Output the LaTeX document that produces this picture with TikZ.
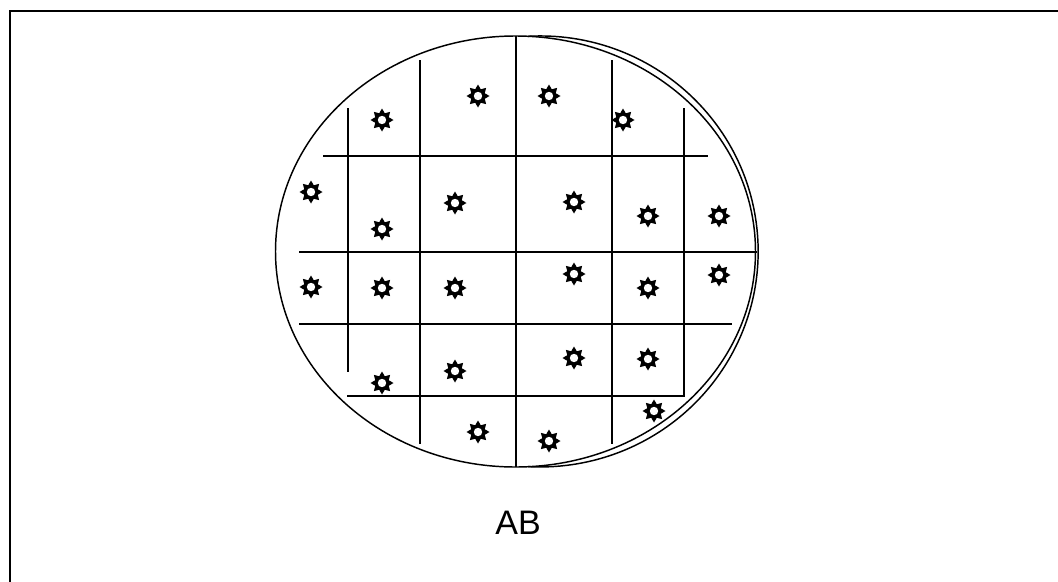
\documentclass[tikz,border=0pt]{standalone}
\usepackage{fontspec}
\setmainfont{Liberation Sans}
\begin{document}
\begin{tikzpicture}[x=0.75pt,y=-0.75pt,
  frame/.style={line width=1.5pt},
  wafer/.style={line width=1.1pt},
  grid/.style={line width=1.1pt},
  wstar/.pic={
    \fill[black] (0:11.5) \foreach \i in {1,...,15}{ -- ({\i*22.5}:{ifthenelse(isodd(\i),7.3,11.5)}) } -- cycle;
    \fill[white] (0,0) circle[radius=4.2];
  }]
\useasboundingbox (0,0) rectangle (1058,582);
% frame
\draw[frame] (10,590) -- (10,11) -- (1070,11);
% wafer outlines
\draw[wafer] (515.5,251.5) ellipse[x radius=240, y radius=215.5];
\draw[wafer] (528,36.3) arc[start angle=-93.2, end angle=93.2, x radius=218, y radius=215.5];
% grid: vertical
\draw[grid] (348,108) -- (348,372);
\draw[grid] (420,60) -- (420,444);
\draw[grid] (516,36) -- (516,467);
\draw[grid] (612,60) -- (612,444);
\draw[grid] (684,108) -- (684,396) -- (347,396);
% grid: horizontal
\draw[grid] (323,156) -- (708,156);
\draw[grid] (299,252) -- (757,252);
\draw[grid] (299,324) -- (732,324);
% stars
\foreach \p/\n in {
  {(382,120)}/s1, {(478,96)}/s2, {(549,96)}/s3, {(623,120)}/s4,
  {(311,192)}/s5, {(382,229)}/s6, {(455,203)}/s7, {(574,202)}/s8, {(648,216)}/s9, {(719,216)}/s10,
  {(311,287)}/s11, {(382,288)}/s12, {(455,288)}/s13, {(574,274)}/s14, {(648,288)}/s15, {(719,275)}/s16,
  {(382,383)}/s17, {(455,371)}/s18, {(574,358)}/s19, {(648,359)}/s20,
  {(478,432)}/s21, {(549,441)}/s22, {(654,411)}/s23}
  { \path \p coordinate (\n); \pic at (\n) {wstar}; }
% label
\node[inner sep=0pt, font=\fontsize{25.5}{30}\selectfont] (lab) at (518,523) {AB};
\end{tikzpicture}
\end{document}
